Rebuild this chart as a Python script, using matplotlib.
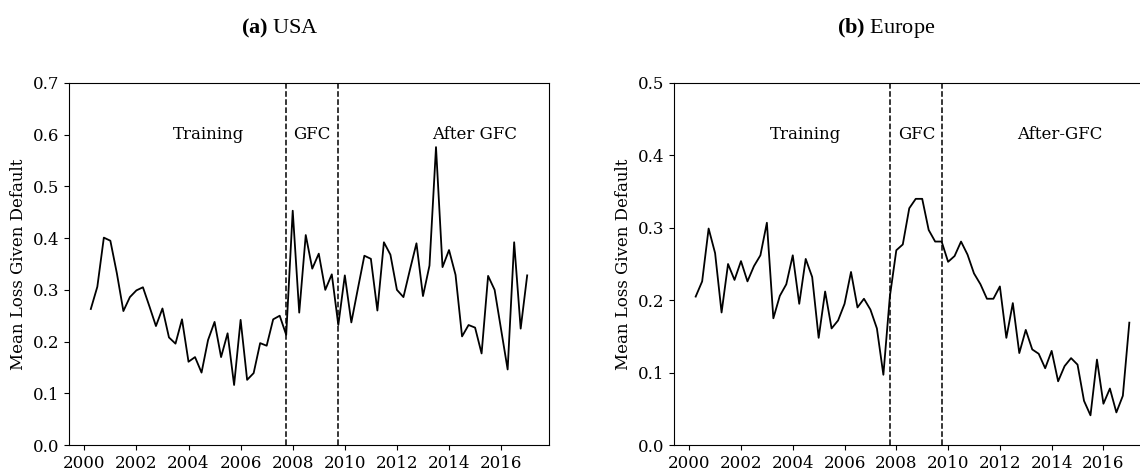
import matplotlib.pyplot as plt
import numpy as np

plt.rcParams['font.family'] = 'DejaVu Serif'
plt.rcParams['mathtext.fontset'] = 'custom'
plt.rcParams['mathtext.rm'] = 'Liberation Serif'
plt.rcParams['mathtext.bf'] = 'Liberation Serif:bold'

# quarterly observations, 2000Q1 .. 2016Q4 (plotted at quarter end)
quarters = np.arange(2000.25, 2017.01, 0.25)

lgd_usa = [0.263, 0.306, 0.401, 0.395, 0.332, 0.259, 0.286, 0.299,
           0.305, 0.268, 0.230, 0.264, 0.208, 0.196, 0.243, 0.161,
           0.170, 0.140, 0.203, 0.238, 0.170, 0.216, 0.116, 0.242,
           0.126, 0.139, 0.197, 0.192, 0.243, 0.250, 0.213, 0.453,
           0.256, 0.406, 0.341, 0.370, 0.300, 0.330, 0.232, 0.328,
           0.237, 0.302, 0.366, 0.360, 0.260, 0.392, 0.368, 0.300,
           0.286, 0.339, 0.390, 0.288, 0.347, 0.576, 0.344, 0.377,
           0.329, 0.210, 0.232, 0.227, 0.177, 0.327, 0.300, 0.223,
           0.146, 0.392, 0.225, 0.328]

lgd_europe = [0.205, 0.226, 0.299, 0.265, 0.183, 0.250, 0.228, 0.254,
              0.226, 0.247, 0.262, 0.307, 0.175, 0.206, 0.222, 0.262,
              0.195, 0.257, 0.232, 0.148, 0.212, 0.161, 0.172, 0.195,
              0.239, 0.190, 0.202, 0.187, 0.161, 0.097, 0.205, 0.269,
              0.277, 0.327, 0.340, 0.340, 0.297, 0.281, 0.281, 0.253,
              0.261, 0.281, 0.263, 0.237, 0.222, 0.202, 0.202, 0.219,
              0.148, 0.196, 0.127, 0.159, 0.132, 0.126, 0.106, 0.130,
              0.088, 0.109, 0.120, 0.111, 0.061, 0.041, 0.118, 0.057,
              0.078, 0.045, 0.068, 0.169]

gfc_start = 2007.75
gfc_end = 2009.75


def plot_panel(ax, values, ymax, labels, label_x):
    ax.plot(quarters, values, color='black', lw=1.3)
    ax.axvline(gfc_start, color='black', ls='--', lw=1.1)
    ax.axvline(gfc_end, color='black', ls='--', lw=1.1)
    ax.set_ylim(0, ymax)
    ax.set_xticks(np.arange(2000, 2017, 2))
    ax.set_ylabel('Mean Loss Given Default', fontsize=12)
    ax.tick_params(labelsize=12)
    for txt, xpos in zip(labels, label_x):
        ax.text(xpos, ymax * 0.857, txt, ha='center', va='center', fontsize=12)


fig = plt.figure(figsize=(11.4, 4.68), dpi=100)
ax1 = fig.add_axes([69 / 1140, 23 / 468, 480 / 1140, 362 / 468])
ax2 = fig.add_axes([674 / 1140, 23 / 468, 477 / 1140, 362 / 468])

plot_panel(ax1, lgd_usa, 0.7, ['Training', 'GFC', 'After GFC'], [2004.75, 2008.75, 2015.0])
plot_panel(ax2, lgd_europe, 0.5, ['Training', 'GFC', 'After-GFC'], [2004.5, 2008.8, 2014.3])

fig.text(279.5 / 1140, 1 - 33 / 468, r'$\mathbf{(a)}$ USA', ha='center', va='baseline',
         fontsize=16, family='Liberation Serif')
fig.text(886 / 1140, 1 - 33 / 468, r'$\mathbf{(b)}$ Europe', ha='center', va='baseline',
         fontsize=16, family='Liberation Serif')

plt.savefig('out.png', dpi=100)
plt.close()
